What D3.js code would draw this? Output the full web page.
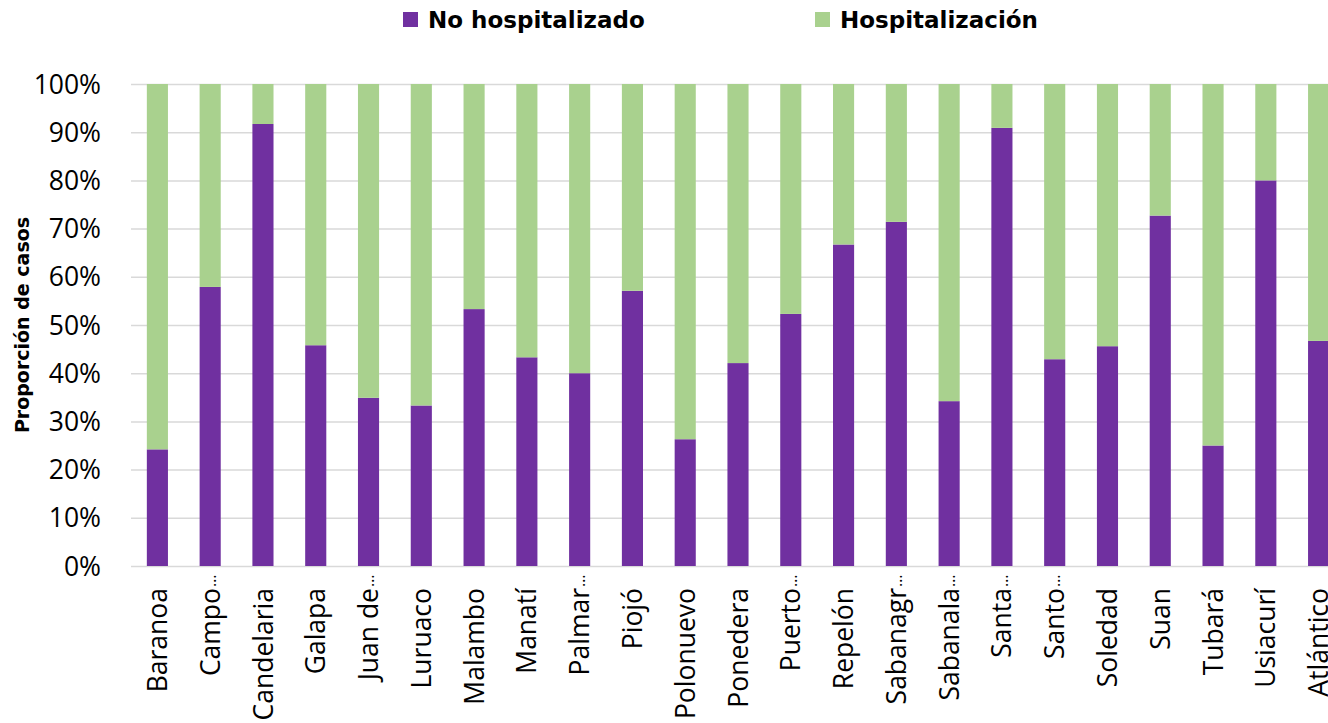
<!DOCTYPE html>
<html>
<head>
<meta charset="utf-8">
<script src="https://cdn.jsdelivr.net/npm/d3@7"></script>
<style>
  body { margin: 0; background: #fff; }
  svg { display: block; font-family: "Open Sans", sans-serif; }
</style>
</head>
<body>
<script>
// municipios (etiquetas truncadas como en el original)
const categories = ['Baranoa', 'Campo…', 'Candelaria', 'Galapa', 'Juan de…', 'Luruaco', 'Malambo',
  'Manatí', 'Palmar…', 'Piojó', 'Polonuevo', 'Ponedera', 'Puerto…', 'Repelón', 'Sabanagr…',
  'Sabanala…', 'Santa…', 'Santo…', 'Soledad', 'Suan', 'Tubará', 'Usiacurí', 'Atlántico'];

// % no hospitalizado
const noHosp = [24.2, 57.9, 91.7, 45.8, 34.9, 33.3, 53.3, 43.3, 40.0, 57.1, 26.3, 42.1, 52.3,
  66.7, 71.4, 34.2, 90.9, 42.9, 45.6, 72.7, 25.0, 80.0, 46.7];
// % hospitalización (resto)
const hosp = noHosp.map(v => 100 - v);

const yTicks = [0, 10, 20, 30, 40, 50, 60, 70, 80, 90, 100];
const seriesNames = ['No hospitalizado', 'Hospitalización'];
const colors = ['#7030A0', '#A9D18E'];

let width = 1328, height = 723;
let margin = {top: 84, left: 131, bottom: 157};
let plotRight = 1345;

let svg = d3.select('body').append('svg')
    .attr('width', width)
    .attr('height', height);

let x = d3.scaleBand()
    .domain(categories)
    .range([margin.left, plotRight])
    .paddingInner(0.6)
    .paddingOuter(0.3);

let y = d3.scaleLinear()
    .domain([0, 100])
    .range([height - margin.bottom, margin.top]);

// gridlines
svg.append('g')
    .selectAll('line')
    .data(yTicks)
    .join('line')
    .attr('x1', margin.left)
    .attr('x2', plotRight)
    .attr('y1', d => y(d) + 0.5)
    .attr('y2', d => y(d) + 0.5)
    .attr('stroke', '#d9d9d9')
    .attr('stroke-width', 1.5);

let rows = categories.map((c, i) => ({cat: c, no: noHosp[i], hosp: hosp[i]}));
let stack = d3.stack().keys(['no', 'hosp'])(rows);

svg.append('g')
    .selectAll('g')
    .data(stack)
    .join('g')
    .attr('fill', (d, i) => colors[i])
    .selectAll('rect')
    .data(d => d)
    .join('rect')
    .attr('x', d => x(d.data.cat))
    .attr('width', x.bandwidth())
    .attr('y', d => y(d[1]))
    .attr('height', d => y(d[0]) - y(d[1]));

// y axis labels
svg.append('g')
    .selectAll('text')
    .data(yTicks)
    .join('text')
    .attr('x', 101)
    .attr('y', d => y(d))
    .attr('dy', '0.36em')
    .attr('text-anchor', 'end')
    .attr('font-size', 26.5)
    .attr('fill', '#000')
    .text(d => d + '%');

// x labels: the word ends at the axis gap, a compact ellipsis runs past it
let xl = svg.append('g')
    .selectAll('g')
    .data(categories)
    .join('g')
    .attr('transform', d => `translate(${x(d) + x.bandwidth() / 2}, ${height - margin.bottom + 22}) rotate(-90)`);

xl.append('text')
    .attr('dy', '0.36em')
    .attr('text-anchor', 'end')
    .attr('font-size', 26.5)
    .attr('fill', '#000')
    .text(d => d.replace('…', ''));

xl.filter(d => d.endsWith('…'))
    .append('text')
    .attr('x', 1)
    .attr('dy', '0.36em')
    .attr('font-size', 16)
    .attr('fill', '#000')
    .text('…');

// y title
svg.append('text')
    .attr('transform', 'translate(22, 325) rotate(-90)')
    .attr('dy', '0.36em')
    .attr('text-anchor', 'middle')
    .attr('font-family', '"DejaVu Sans", sans-serif')
    .attr('font-size', 19)
    .attr('font-weight', 'bold')
    .text('Proporción de casos');

// legend
let legendX = [403, 815];
let legend = svg.append('g')
    .selectAll('g')
    .data(seriesNames)
    .join('g')
    .attr('transform', (d, i) => `translate(${legendX[i]}, 12)`);

legend.append('rect')
    .attr('width', 15)
    .attr('height', 15)
    .attr('fill', (d, i) => colors[i]);

legend.append('text')
    .attr('x', 25)
    .attr('y', 8)
    .attr('dy', '0.36em')
    .attr('font-family', '"DejaVu Sans", sans-serif')
    .attr('font-size', 23)
    .attr('font-weight', 'bold')
    .text(d => d);
</script>
</body>
</html>
